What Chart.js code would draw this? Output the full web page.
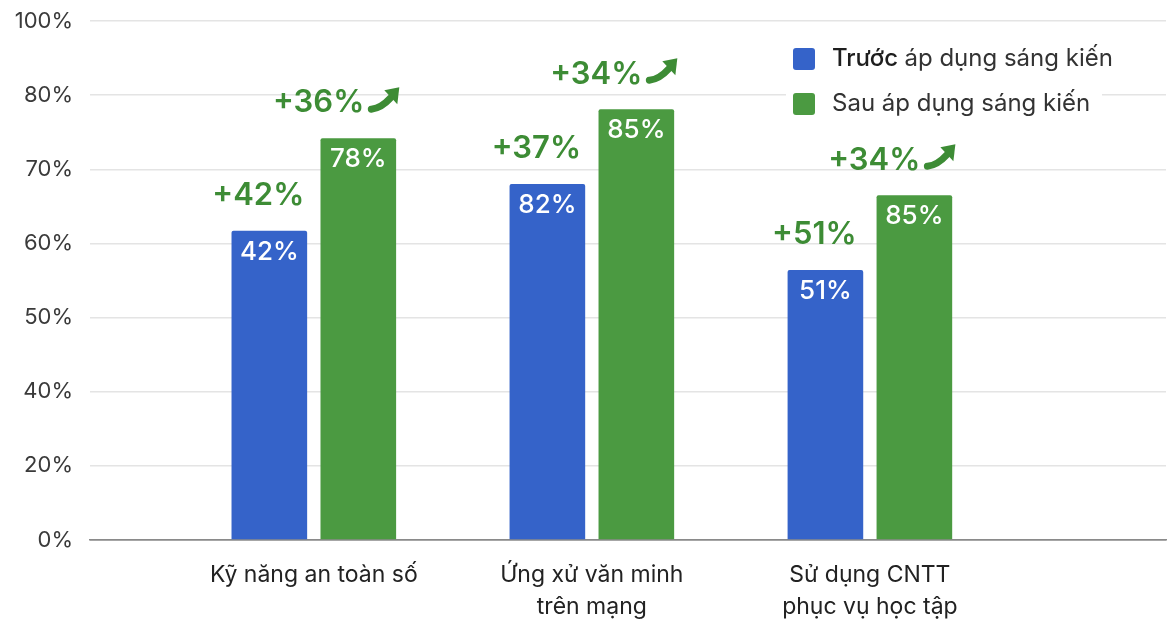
<!DOCTYPE html>
<html lang="vi">
<head>
<meta charset="utf-8">
<title>Trước và sau áp dụng sáng kiến</title>
<script src="https://cdn.jsdelivr.net/npm/chart.js@4/dist/chart.umd.min.js"></script>
<style>
  html, body { margin: 0; padding: 0; background: #fff; }
  #bieuDo { display: block; }
</style>
</head>
<body>
<canvas id="bieuDo" width="1173" height="620"></canvas>
<script>
// DU LIEU DOC TU HINH
const danhMuc = [
  'Kỹ năng an toàn số',
  ['Ứng xử văn minh', 'trên mạng'],
  ['Sử dụng CNTT', 'phục vụ học tập']
];
const nhanTrucY = ['0%', '20%', '40%', '50%', '60%', '70%', '80%', '100%'];
// chieu cao cot, doc theo cac moc cua truc Y
const truocApDung = [61.7, 68, 56.4];
const sauApDung = [74.2, 78.1, 66.5];
// chu ghi tren cot
const nhanTruoc = ['42%', '82%', '51%'];
const nhanSau = ['78%', '85%', '85%'];
const tangTruoc = ['+42%', '+37%', '+51%'];
const tangSau = ['+36%', '+34%', '+34%'];
const tenChuGiai = ['Trước áp dụng sáng kiến', 'Sau áp dụng sáng kiến'];

const mauXanhDuong = '#3563c9';
const mauXanhLa = '#4b9a41';
const mauChuTang = '#3d8c35';
const FONT = 'Inter, "Noto Sans", sans-serif';

// cac moc truc Y cach deu nhau nen doi % sang vi tri tren truc
const mocTrucY = nhanTrucY.map((nhan) => parseFloat(nhan));
const viTriTrenTruc = (giaTri) => {
  for (let i = 1; i < mocTrucY.length; i++) {
    if (giaTri <= mocTrucY[i]) {
      return i - 1 + (giaTri - mocTrucY[i - 1]) / (mocTrucY[i] - mocTrucY[i - 1]);
    }
  }
  return mocTrucY.length - 1;
};

const taoDiem = (mang) => mang.map((giaTri, i) => ({ x: i + 1, y: viTriTrenTruc(giaTri) }));

// VE MUI TEN DI LEN
const veMuiTen = (ctx, ax, ay) => {
  ctx.save();
  ctx.strokeStyle = mauChuTang;
  ctx.fillStyle = mauChuTang;
  ctx.lineWidth = 7;
  ctx.lineCap = 'round';
  ctx.beginPath();
  ctx.moveTo(ax + 3, ay + 6);
  ctx.quadraticCurveTo(ax + 13, ay + 5, ax + 22, ay - 5);
  ctx.stroke();
  ctx.beginPath();
  ctx.moveTo(ax + 31, ay - 16);
  ctx.lineTo(ax + 16, ay - 13);
  ctx.lineTo(ax + 29, ay + 1);
  ctx.closePath();
  ctx.fill();
  ctx.restore();
};

// PLUGIN GHI CHU TREN COT
const ghiChuCot = {
  id: 'ghiChuCot',
  afterDatasetsDraw(chart) {
    const ctx = chart.ctx;
    chart.data.datasets.forEach((ds, di) => {
      const meta = chart.getDatasetMeta(di);
      const nhan = di === 0 ? nhanTruoc : nhanSau;
      const tang = di === 0 ? tangTruoc : tangSau;
      meta.data.forEach((cot, i) => {
        ctx.save();
        ctx.fillStyle = '#ffffff';
        ctx.font = '500 26px ' + FONT;
        ctx.textAlign = 'center';
        ctx.textBaseline = 'middle';
        ctx.fillText(nhan[i], cot.x, cot.y + 21);

        ctx.fillStyle = mauChuTang;
        ctx.font = '600 31px ' + FONT;
        const yChu = cot.y - 35;
        if (di === 0) {
          ctx.fillText(tang[i], cot.x - 11, yChu);
        } else {
          ctx.textAlign = 'right';
          ctx.fillText(tang[i], cot.x + 6, yChu);
          veMuiTen(ctx, cot.x + 10, yChu);
        }
        ctx.restore();
      });
    });
  }
};

// PLUGIN CHU GIAI GOC PHAI
const chuGiai = {
  id: 'chuGiai',
  afterDraw(chart) {
    const ctx = chart.ctx;
    const mau = [mauXanhDuong, mauXanhLa];
    ctx.save();
    ctx.fillStyle = '#ffffff';
    ctx.fillRect(786, 40, 316, 84);
    ctx.textBaseline = 'middle';
    ctx.textAlign = 'left';
    tenChuGiai.forEach((ten, i) => {
      const y = 59 + i * 45;
      ctx.fillStyle = mau[i];
      ctx.beginPath();
      ctx.roundRect(793, y - 11, 22, 22, 3);
      ctx.fill();
      ctx.font = '24px ' + FONT;
      if (i === 0) {
        // chu "Truoc" dam hon mot chut
        const [dau, ...conLai] = ten.split(' ');
        ctx.fillStyle = '#1e1e1e';
        ctx.font = '500 24px ' + FONT;
        ctx.fillText(dau, 832, y);
        const rong = ctx.measureText(dau + ' ').width;
        ctx.fillStyle = '#333333';
        ctx.font = '24px ' + FONT;
        ctx.fillText(conLai.join(' '), 832 + rong, y);
      } else {
        ctx.fillStyle = '#333333';
        ctx.fillText(ten, 832, y);
      }
    });
    ctx.restore();
  }
};

const config = {
  type: 'bar',
  data: {
    datasets: [
      {
        label: tenChuGiai[0],
        data: taoDiem(truocApDung),
        backgroundColor: mauXanhDuong,
        borderRadius: { topLeft: 2, topRight: 2 },
        borderSkipped: 'bottom',
        categoryPercentage: 0.64,
        barPercentage: 0.85
      },
      {
        label: tenChuGiai[1],
        data: taoDiem(sauApDung),
        backgroundColor: mauXanhLa,
        borderRadius: { topLeft: 2, topRight: 2 },
        borderSkipped: 'bottom',
        categoryPercentage: 0.64,
        barPercentage: 0.85
      }
    ]
  },
  options: {
    responsive: false,
    animation: false,
    devicePixelRatio: 1,
    layout: { padding: { top: 21, right: 7, left: 0, bottom: 0 } },
    plugins: {
      legend: { display: false },
      tooltip: { enabled: false }
    },
    scales: {
      x: {
        type: 'linear',
        offset: false,
        bounds: 'data',
        min: 0.195,
        max: 4.065,
        grid: { display: false, offset: false },
        border: { display: true, color: '#8a8a8a', width: 1.5 },
        afterBuildTicks: (scale) => {
          scale.ticks = danhMuc.map((_, i) => ({ value: i + 1 }));
        },
        afterFit: (scale) => { scale.height = 80; },
        ticks: {
          autoSkip: false,
          maxRotation: 0,
          padding: 11,
          color: '#222222',
          font: { family: FONT, size: 23, lineHeight: 1.38 },
          callback: (value) => danhMuc[value - 1]
        }
      },
      y: {
        min: 0,
        max: nhanTrucY.length - 1,
        afterFit: (scale) => {
          scale.width = 90;
          scale.paddingTop = 0;
        },
        border: { display: false },
        grid: {
          drawTicks: false,
          color: (c) => (c.tick.value === 0 ? '#8a8a8a' : '#e4e4e4'),
          lineWidth: 1.5
        },
        ticks: {
          stepSize: 1,
          padding: 17,
          color: '#3a3a3a',
          font: { family: FONT, size: 22 },
          callback: (value) => nhanTrucY[value]
        }
      }
    }
  },
  plugins: [ghiChuCot, chuGiai]
};

new Chart(document.getElementById('bieuDo'), config);
</script>
</body>
</html>
